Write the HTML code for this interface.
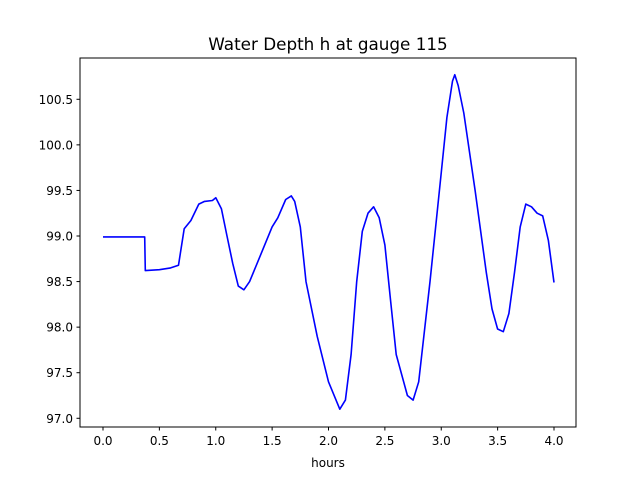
<!DOCTYPE html>
<html><head><meta charset="utf-8"><style>
body{margin:0;background:#fff}
svg text{font-family:"DejaVu Sans","Liberation Sans",sans-serif;fill:#000}
</style></head><body>
<svg width="640" height="480" xmlns="http://www.w3.org/2000/svg">
<rect width="640" height="480" fill="#fff"/>
<text x="328" y="50" font-size="16.8" text-anchor="middle">Water Depth h at gauge 115</text>
<g id="axes"></g>
<rect x="80" y="58" width="496" height="369" fill="none" stroke="#000" stroke-width="1"/>
<text x="328" y="467" font-size="12" text-anchor="middle">hours</text>
</svg>
<script>
const hours=[0,0.37,0.375,0.5,0.6,0.67,0.72,0.78,0.85,0.9,0.97,1.0,1.05,1.1,1.15,1.2,1.25,1.3,1.4,1.5,1.55,1.62,1.67,1.7,1.75,1.8,1.9,2.0,2.1,2.15,2.2,2.25,2.3,2.35,2.4,2.45,2.5,2.55,2.6,2.7,2.75,2.8,2.9,3.0,3.05,3.1,3.12,3.15,3.2,3.3,3.4,3.45,3.5,3.55,3.6,3.65,3.7,3.75,3.8,3.85,3.9,3.95,4.0];
const depth=[98.99,98.99,98.62,98.63,98.65,98.68,99.08,99.17,99.35,99.38,99.39,99.42,99.3,99.0,98.7,98.45,98.41,98.5,98.8,99.1,99.2,99.4,99.44,99.38,99.1,98.5,97.9,97.4,97.1,97.2,97.7,98.5,99.05,99.25,99.32,99.2,98.9,98.3,97.7,97.25,97.2,97.4,98.5,99.7,100.3,100.7,100.77,100.65,100.35,99.5,98.6,98.2,97.98,97.95,98.15,98.6,99.1,99.35,99.32,99.25,99.22,98.95,98.49];
const xTicks=[0,0.5,1,1.5,2,2.5,3,3.5,4];
const yTicks=[97.0,97.5,98.0,98.5,99.0,99.5,100.0,100.5];
const X=v=>103+v*112.75;
const Y=v=>236-(v-99)*91.14;
const NS="http://www.w3.org/2000/svg";
const g=document.getElementById('axes');
function mk(t,a){const e=document.createElementNS(NS,t);for(const k in a)e.setAttribute(k,a[k]);return e;}
xTicks.forEach(t=>{
  const l=mk('line',{x1:X(t),x2:X(t),y1:427,y2:430.5,stroke:'#000'});
  
  
  g.appendChild(l);
  const tx=mk('text',{x:X(t),y:445,'font-size':12,'text-anchor':'middle'});
  tx.textContent=t.toFixed(1);
  
  
  g.appendChild(tx);
});
yTicks.forEach(t=>{
  const l=mk('line',{x1:76.5,x2:80,y1:Y(t),y2:Y(t),stroke:'#000'});
  
  
  g.appendChild(l);
  const tx=mk('text',{x:73,y:Y(t)+4.5,'font-size':12,'text-anchor':'end'});
  tx.textContent=t.toFixed(1);
  
  
  g.appendChild(tx);
});
const pts=hours.map((h,i)=>X(h).toFixed(1)+','+Y(depth[i]).toFixed(1)).join(' ');
const pl=mk('polyline',{points:pts,fill:'none',stroke:'#0000ff','stroke-width':1.6,'stroke-linejoin':'round'});


g.appendChild(pl);
</script>
</body></html>
